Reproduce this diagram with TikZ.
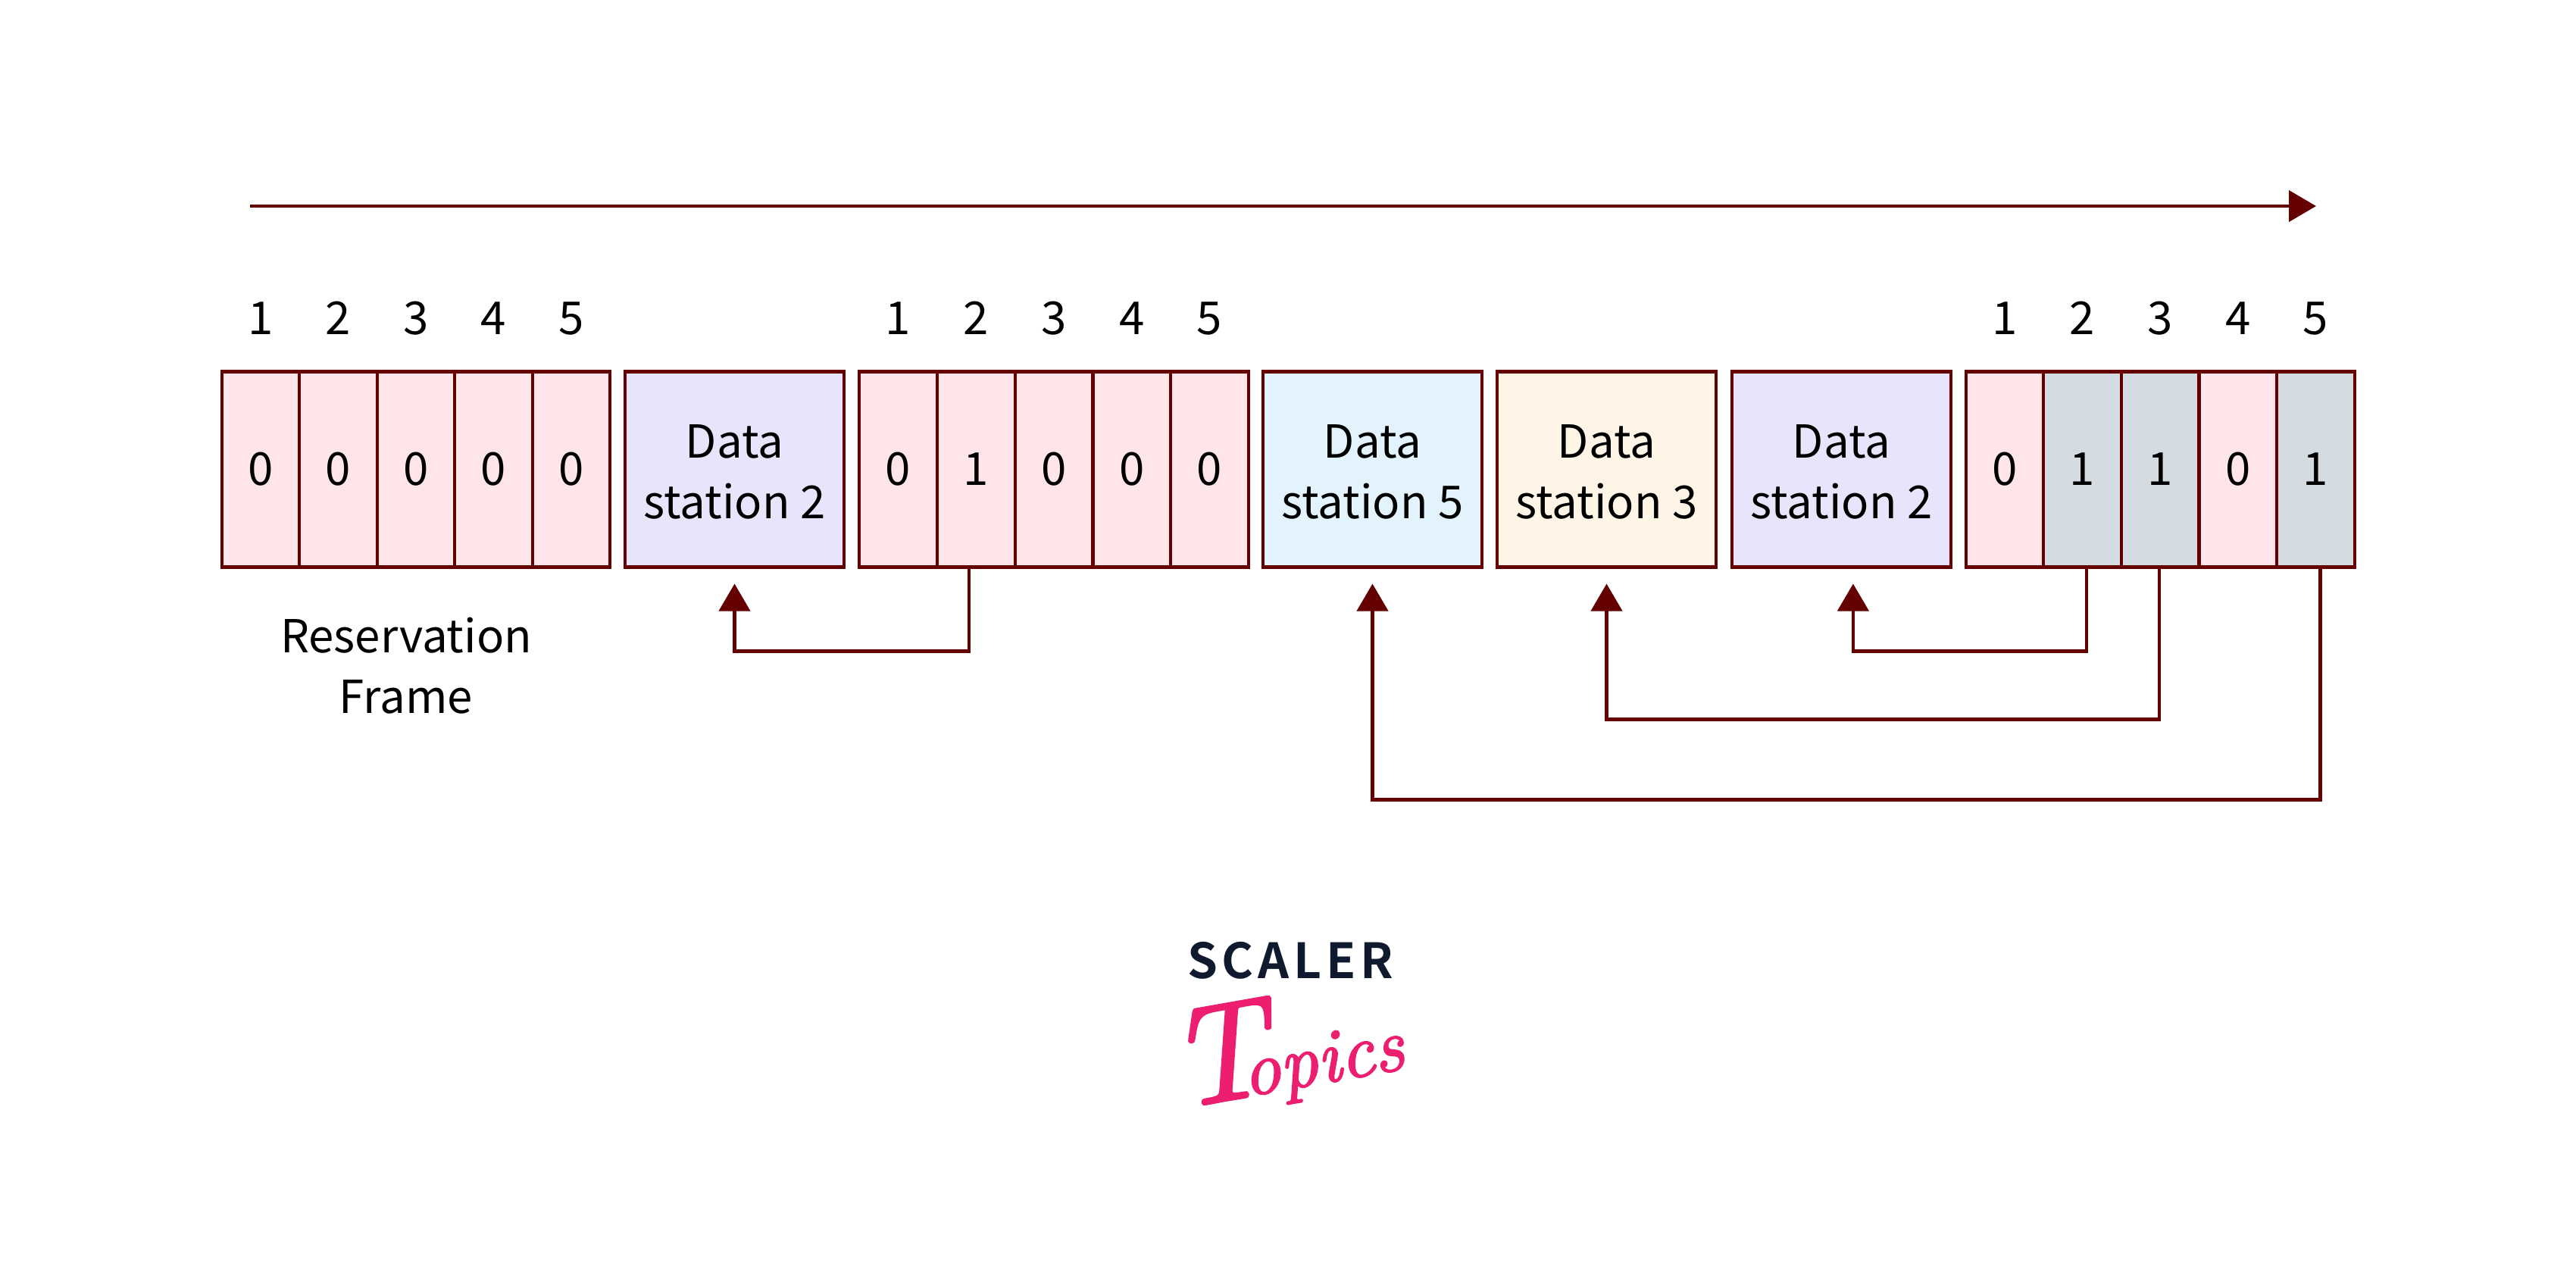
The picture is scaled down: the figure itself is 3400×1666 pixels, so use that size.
\documentclass[tikz,border=0pt]{standalone}
\usepackage{fontspec}
\usetikzlibrary{arrows.meta}
\setmainfont{Noto Sans CJK SC}
\newfontfamily\brandfont[LetterSpace=9,BoldFont={Noto Sans CJK SC Bold}]{Noto Sans CJK SC}
\newfontfamily\cursivefont[ItalicFeatures={FakeBold=2.2}]{Latin Modern Roman}
\newcommand\firstline{\rule{0pt}{25pt}}
\definecolor{wire}{HTML}{650000}
\definecolor{slotfree}{HTML}{FEE5E9}
\definecolor{slotused}{HTML}{D4DCE2}
\definecolor{lavender}{HTML}{E6E5FB}
\definecolor{skyfill}{HTML}{E3F3FD}
\definecolor{creamfill}{HTML}{FEF5E6}
\definecolor{brandnavy}{HTML}{0F1A2E}
\definecolor{brandpink}{HTML}{ED1E6F}
\tikzset{
  every node/.style={inner sep=0pt, outer sep=0pt, text=black, font=\fontsize{30}{40}\selectfont},
  slot/.style={draw=wire, line width=2.1pt, minimum width=51.3pt, minimum height=129pt},
  databox/.style={draw=wire, line width=2.1pt, minimum width=144.4pt, minimum height=129pt, align=center},
  caption/.style={align=center},
  conn/.style={draw=wire, line width=2.1pt, -{Triangle[length=18pt,width=20.5pt]}}
}
\begin{document}
\begin{tikzpicture}[x=0.5pt,y=-0.5pt]
\useasboundingbox[fill=white] (0,0) rectangle (3400,1666);

% timeline
\coordinate (tstart) at (330,272);
\coordinate (tend) at (3057,272);
\draw[conn] (tstart) -- (tend);

% first reservation frame
\foreach \i/\x/\b/\f in {1/344/0/slotfree,2/446.5/0/slotfree,3/549/0/slotfree,4/651.5/0/slotfree,5/754/0/slotfree}{
  \node[slot,fill=\f] (a\i) at (\x,619.5) {};
  \node (av\i) at (\x,619) {\b};
  \node (an\i) at (\x,420) {\i};
}
% second reservation frame
\foreach \i/\x/\b/\f in {1/1185.5/0/slotfree,2/1288.3/1/slotfree,3/1391/0/slotfree,4/1493.8/0/slotfree,5/1596.6/0/slotfree}{
  \node[slot,fill=\f] (b\i) at (\x,619.5) {};
  \node (bv\i) at (\x,619) {\b};
  \node (bn\i) at (\x,420) {\i};
}
% third reservation frame
\foreach \i/\x/\b/\f in {1/2646/0/slotfree,2/2748.6/1/slotused,3/2851.2/1/slotused,4/2953.8/0/slotfree,5/3056.4/1/slotused}{
  \node[slot,fill=\f] (c\i) at (\x,619.5) {};
  \node (cv\i) at (\x,619) {\b};
  \node (cn\i) at (\x,420) {\i};
}

% data frames
\node[databox,fill=lavender]  (d1) at (969.5,619.5)  {\firstline Data\\station 2};
\node[databox,fill=skyfill]   (d2) at (1811.5,619.5) {\firstline Data\\station 5};
\node[databox,fill=creamfill] (d3) at (2120.5,619.5) {\firstline Data\\station 3};
\node[databox,fill=lavender]  (d4) at (2430.5,619.5) {\firstline Data\\station 2};

\node[caption] (resv) at (536,879) {Reservation\\Frame};

% links from reservation bits to their data frames
\draw[conn] ([xshift=-4.5pt]b2.south) -- ++(0,111) -| ([yshift=-11pt]d1.south);
\draw[conn] ([xshift=2.5pt]c2.south) -- ++(0,111) -| ([xshift=7.7pt,yshift=-11pt]d4.south);
\draw[conn] ([xshift=-0.5pt]c3.south) -- ++(0,201) -| ([yshift=-11pt]d3.south);
\draw[conn] ([xshift=3pt]c5.south) -- ++(0,307) -| ([yshift=-11pt]d2.south);

% wordmark
\node[text=brandnavy,font=\brandfont\bfseries\fontsize{32}{36}\selectfont] (scaler) at (1703,1267.5) {SCALER};
\node[text=brandpink,rotate=10] (topics) at (1696,1385) {\cursivefont\itshape\fontsize{92}{60}\selectfont T\kern-18pt\fontsize{50}{60}\selectfont opics};
\end{tikzpicture}
\end{document}
